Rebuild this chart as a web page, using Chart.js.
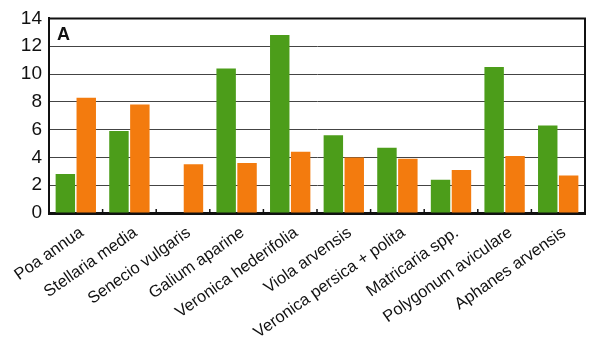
<!DOCTYPE html>
<html>
<head>
<meta charset="utf-8">
<script src="https://cdn.jsdelivr.net/npm/chart.js@4/dist/chart.umd.min.js"></script>
<style>
  html, body { margin: 0; padding: 0; background: #ffffff; }
  #wrap { width: 590px; height: 340px; position: relative; }
</style>
</head>
<body>
<div id="wrap"><canvas id="c"></canvas></div>
<script>
// Weed species along the x axis
const categories = [
  "Poa annua", "Stellaria media", "Senecio vulgaris", "Galium aparine",
  "Veronica hederifolia", "Viola arvensis", "Veronica persica + polita",
  "Matricaria spp.", "Polygonum aviculare", "Aphanes arvensis"
];
// Green series
const greenValues = [2.8, 5.9, 0, 10.4, 12.8, 5.6, 4.7, 2.4, 10.5, 6.3];
// Orange series
const orangeValues = [8.3, 7.8, 3.5, 3.6, 4.4, 4.0, 3.9, 3.1, 4.1, 2.7];
// Y axis ticks
const yTicks = [0, 2, 4, 6, 8, 10, 12, 14];
const panelLabel = "A";

const FONT = "'Liberation Sans', Arial, sans-serif";

// Frame, inward tick marks between categories and the panel letter
const framePlugin = {
  id: 'frame',
  afterDatasetsDraw(chart) {
    const { ctx, chartArea: a, scales } = chart;
    const x = scales.x;
    ctx.save();
    ctx.strokeStyle = '#111';
    // small upward ticks at category boundaries
    ctx.lineWidth = 1.5;
    for (let i = 1; i < categories.length; i++) {
      const px = (x.getPixelForValue(i - 1) + x.getPixelForValue(i)) / 2;
      ctx.beginPath();
      ctx.moveTo(px, a.bottom);
      ctx.lineTo(px, a.bottom - 4);
      ctx.stroke();
    }
    // top and right border
    ctx.lineWidth = 2;
    ctx.beginPath();
    ctx.moveTo(a.left, a.top);
    ctx.lineTo(a.right, a.top);
    ctx.lineTo(a.right, a.bottom);
    ctx.stroke();
    // panel letter
    ctx.fillStyle = '#111';
    ctx.font = "bold 18px " + FONT;
    ctx.textBaseline = 'top';
    ctx.textAlign = 'left';
    ctx.fillText(panelLabel, a.left + 8, a.top + 8);
    ctx.restore();
  }
};

new Chart(document.getElementById('c'), {
  type: 'bar',
  data: {
    labels: categories,
    datasets: [
      { data: greenValues, backgroundColor: '#4c9d1a', barPercentage: 0.93, categoryPercentage: 0.78 },
      { data: orangeValues, backgroundColor: '#f37b0e', barPercentage: 0.93, categoryPercentage: 0.78 }
    ]
  },
  options: {
    responsive: true,
    maintainAspectRatio: false,
    animation: false,
    layout: { padding: { left: 0, right: 5, top: 14, bottom: 0 } },
    plugins: { legend: { display: false }, tooltip: { enabled: false } },
    scales: {
      x: {
        grid: { display: false },
        border: { display: true, color: '#111', width: 3 },
        ticks: {
          color: '#111',
          font: { family: FONT, size: 16.5 },
          minRotation: 35,
          maxRotation: 35,
          autoSkip: false,
          labelOffset: 6,
          padding: 2
        },
        afterFit(s) { s.height = 127; }
      },
      y: {
        min: 0,
        max: 14,
        afterBuildTicks(s) { s.ticks = yTicks.map(v => ({ value: v })); },
        grid: { color: '#444', lineWidth: 1, drawTicks: false },
        border: { display: true, color: '#111', width: 2 },
        ticks: {
          color: '#111',
          font: { family: FONT, size: 19 },
          padding: 7
        },
        afterFit(s) { s.width = 49; }
      }
    }
  },
  plugins: [framePlugin]
});
</script>
</body>
</html>
